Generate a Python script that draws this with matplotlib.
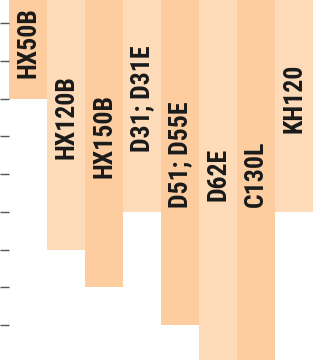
import matplotlib
matplotlib.use("Agg")
import matplotlib.pyplot as plt
import numpy as np

# bar labels and depth of each hanging column
models = ["HX50B", "HX120B", "HX150B", "D31; D31E", "D51; D55E", "D62E", "C130L", "KH120"]
depth = [3, 7, 8, 6, 9, 10, 10, 6]
tick_values = [1, 2, 3, 4, 5, 6, 7, 8, 9]

dark = "#fdcda0"
light = "#fddab8"
colors = [dark if i % 2 == 0 else light for i in range(len(models))]

fig = plt.figure(figsize=(3.13, 3.60), dpi=100)
ax = fig.add_axes([0, 0, 1, 1])

x = np.arange(len(models))
ax.bar(x, depth, width=1.0, color=colors, linewidth=0)

for xi, name, d in zip(x, models, depth):
    ax.text(xi, d / 2, name, rotation=90, ha="center", va="center",
            family=["Roboto Condensed", "DejaVu Sans"], weight=900,
            fontsize=18.5, color="#1a1a1a")

ax.set_xlim(-0.737, 7.5)
ax.set_ylim(9.931, 0.382)
ax.set_yticks(tick_values)
ax.set_yticklabels([])
ax.tick_params(axis="y", direction="in", length=6.5, width=1.0, color="#555555", left=True)
ax.tick_params(axis="x", bottom=False, labelbottom=False)
for s in ax.spines.values():
    s.set_visible(False)

fig.savefig("out.png", dpi=100)
